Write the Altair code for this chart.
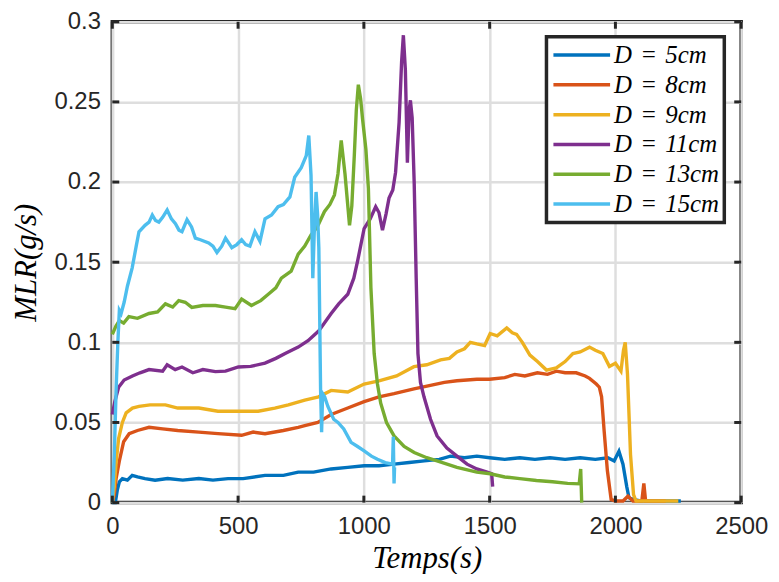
import altair as alt
import pandas as pd

# ---------------- data ----------------
SP = "\u2004"
labels = [f"D{SP}={SP}5cm", f"D{SP}={SP}8cm", f"D{SP}={SP}9cm",
          f"D{SP}={SP}11cm", f"D{SP}={SP}13cm", f"D{SP}={SP}15cm"]
colors = ["#0072BD", "#D95319", "#EDB120", "#7E2F8E", "#77AC30", "#4DBEEE"]

t5 = [0, 12, 20, 28, 40, 60, 79, 100, 130, 170, 220, 280, 344, 400, 460, 520, 607, 680, 739, 800,
      870, 936, 1001, 1060, 1120, 1180, 1240, 1300, 1344, 1400, 1449, 1500, 1560, 1620, 1680, 1740,
      1800, 1860, 1920, 1970, 1995, 2014, 2030, 2045, 2054, 2070, 2100, 2150, 2200, 2260]
v5 = [0, 0, 0.008, 0.013, 0.015, 0.014, 0.017, 0.016, 0.015, 0.014, 0.015, 0.014, 0.015, 0.014,
      0.015, 0.015, 0.017, 0.017, 0.019, 0.019, 0.021, 0.022, 0.023, 0.023, 0.024, 0.025, 0.026,
      0.027, 0.029, 0.028, 0.029, 0.028, 0.027, 0.028, 0.027, 0.028, 0.027, 0.028, 0.027, 0.028,
      0.026, 0.032, 0.024, 0.010, 0.003, 0.002, 0.001, 0.001, 0.001, 0.001]

t8 = [0, 8, 15, 28, 45, 67, 100, 146, 200, 260, 344, 420, 514, 560, 607, 680, 739, 765, 817, 870,
      936, 1001, 1060, 1120, 1199, 1260, 1320, 1370, 1449, 1500, 1560, 1600, 1640, 1690, 1730, 1765,
      1800, 1844, 1880, 1897, 1924, 1936, 1945, 1955, 1968, 1983, 2000, 2030, 2050, 2070, 2090,
      2105, 2113, 2120, 2150, 2200]
v8 = [0, 0.005, 0.015, 0.026, 0.038, 0.043, 0.045, 0.047, 0.046, 0.045, 0.044, 0.043, 0.042, 0.044,
      0.043, 0.045, 0.047, 0.048, 0.050, 0.055, 0.059, 0.063, 0.066, 0.068, 0.071, 0.073, 0.075,
      0.076, 0.077, 0.077, 0.078, 0.080, 0.079, 0.081, 0.080, 0.082, 0.081, 0.081, 0.079, 0.0775,
      0.074, 0.072, 0.066, 0.045, 0.020, 0.002, 0.001, 0.001, 0.004, 0.001, 0.001, 0.001, 0.012,
      0.001, 0.001, 0.001]

t9 = [0, 8, 15, 25, 40, 55, 80, 106, 150, 211, 260, 344, 420, 514, 580, 646, 700, 765, 820, 870,
      936, 1001, 1060, 1130, 1199, 1250, 1305, 1340, 1370, 1400, 1423, 1449, 1480, 1502, 1530, 1568,
      1590, 1607, 1630, 1660, 1690, 1726, 1765, 1800, 1831, 1860, 1897, 1920, 1950, 1976, 2000,
      2022, 2032, 2039, 2048, 2060, 2072, 2082, 2100, 2150, 2200, 2250]
v9 = [0, 0.01, 0.025, 0.040, 0.050, 0.056, 0.059, 0.060, 0.061, 0.061, 0.059, 0.059, 0.057, 0.057,
      0.057, 0.059, 0.061, 0.064, 0.066, 0.070, 0.069, 0.074, 0.076, 0.079, 0.0848, 0.086, 0.089,
      0.090, 0.094, 0.096, 0.100, 0.099, 0.098, 0.1055, 0.104, 0.109, 0.106, 0.105, 0.100, 0.092,
      0.088, 0.0827, 0.084, 0.088, 0.093, 0.094, 0.097, 0.095, 0.093, 0.085, 0.087, 0.082, 0.095,
      0.100, 0.080, 0.030, 0.005, 0.001, 0.001, 0.001, 0.001, 0.001]

t11 = [0, 10, 25, 47, 80, 110, 146, 200, 218, 250, 277, 320, 360, 410, 450, 501, 550, 607, 650, 687,
       739, 778, 820, 870, 900, 936, 960, 975, 1001, 1025, 1047, 1060, 1074, 1088, 1100, 1115, 1126,
       1140, 1150, 1157, 1165, 1173, 1180, 1185, 1192, 1200, 1208, 1215, 1225, 1239, 1265, 1291,
       1330, 1370, 1410, 1449, 1490, 1508, 1512]
v11 = [0.055, 0.063, 0.072, 0.0765, 0.079, 0.081, 0.083, 0.082, 0.086, 0.083, 0.0846, 0.081, 0.083,
       0.0817, 0.082, 0.0846, 0.085, 0.087, 0.090, 0.093, 0.097, 0.101, 0.107, 0.118, 0.124, 0.130,
       0.140, 0.1506, 0.171, 0.177, 0.1846, 0.181, 0.170, 0.180, 0.190, 0.195, 0.206, 0.237, 0.275,
       0.2916, 0.270, 0.212, 0.245, 0.251, 0.240, 0.200, 0.140, 0.093, 0.075, 0.066, 0.052, 0.0416,
       0.034, 0.029, 0.024, 0.021, 0.019, 0.018, 0.010]

t13 = [0, 14, 28, 45, 66, 100, 146, 180, 211, 240, 264, 290, 316, 360, 410, 450, 488, 514, 553, 590,
       620, 650, 672, 711, 739, 765, 790, 815, 843, 865, 883, 897, 910, 925, 943, 952, 962, 970, 978,
       987, 995, 1008, 1018, 1028, 1041, 1054, 1067, 1090, 1120, 1160, 1200, 1250, 1291, 1370, 1449,
       1502, 1560, 1620, 1686, 1750, 1810, 1856, 1862, 1866]
v13 = [0.105, 0.110, 0.1136, 0.112, 0.116, 0.115, 0.118, 0.119, 0.124, 0.122, 0.126, 0.125, 0.1218,
       0.123, 0.123, 0.122, 0.121, 0.127, 0.123, 0.126, 0.130, 0.134, 0.140, 0.1444, 0.155, 0.160,
       0.167, 0.172, 0.1815, 0.186, 0.192, 0.205, 0.226, 0.205, 0.173, 0.185, 0.2166, 0.245, 0.2607,
       0.252, 0.239, 0.2206, 0.196, 0.134, 0.093, 0.074, 0.062, 0.050, 0.0416, 0.035, 0.0313, 0.028,
       0.026, 0.022, 0.019, 0.018, 0.016, 0.015, 0.0138, 0.013, 0.012, 0.0117, 0.021, 0.0]

t15 = [0, 8, 15, 22, 28, 35, 47, 60, 79, 95, 106, 130, 146, 159, 172, 185, 200, 218, 235, 251, 265,
       277, 297, 315, 330, 350, 383, 400, 416, 435, 450, 475, 495, 514, 530, 547, 567, 587, 607, 633,
       659, 680, 706, 725, 751, 771, 781, 790, 797, 803, 810, 816, 821, 828, 832, 836, 844, 857, 880,
       897, 920, 949, 975, 1001, 1030, 1054, 1085, 1114, 1117, 1120, 1122]
v15 = [0, 0.03, 0.07, 0.10, 0.12, 0.118, 0.125, 0.135, 0.1465, 0.160, 0.169, 0.173, 0.175, 0.1794,
       0.176, 0.175, 0.178, 0.1825, 0.177, 0.174, 0.170, 0.169, 0.1765, 0.172, 0.165, 0.164, 0.162,
       0.160, 0.156, 0.160, 0.165, 0.159, 0.161, 0.164, 0.161, 0.160, 0.169, 0.163, 0.177, 0.1794,
       0.1846, 0.186, 0.1907, 0.203, 0.209, 0.2165, 0.229, 0.204, 0.140, 0.170, 0.1938, 0.180, 0.159,
       0.070, 0.044, 0.068, 0.066, 0.060, 0.052, 0.050, 0.046, 0.0376, 0.035, 0.0323, 0.029, 0.027,
       0.025, 0.024, 0.041, 0.012, 0.022]

x_ticks = [0, 500, 1000, 1500, 2000, 2500]
y_ticks = [0, 0.05, 0.1, 0.15, 0.2, 0.25, 0.3]

# ---------------- build table ----------------
series = [(t5, v5), (t8, v8), (t9, v9), (t11, v11), (t13, v13), (t15, v15)]
rows = []
for i, (ts, vs) in enumerate(series):
    for t, v in zip(ts, vs):
        rows.append({"t": t, "v": v, "D": labels[i]})
df = pd.DataFrame(rows)
xt = pd.DataFrame({"t": x_ticks})
yt = pd.DataFrame({"v": y_ticks})

W, H = 633, 484
INK = "#262626"

xscale = alt.Scale(domain=[0, 2500], nice=False)
yscale = alt.Scale(domain=[0, 0.3], nice=False, zero=True)
xaxis = alt.Axis(values=x_ticks, format="d", title="Temps(s)", labelFlush=False)
yaxis = alt.Axis(values=y_ticks, format="~g", title="MLR(g/s)", labelFlush=False)

lines = alt.Chart(df).mark_line(strokeWidth=3.4).encode(
    x=alt.X("t:Q", scale=xscale, axis=xaxis),
    y=alt.Y("v:Q", scale=yscale, axis=yaxis),
    color=alt.Color("D:N",
                    scale=alt.Scale(domain=labels, range=colors),
                    legend=alt.Legend(title=None, orient="none", legendX=437, legendY=15)),
    order="t:Q",
)

tick_style = dict(color=INK, strokeWidth=3)
bx = alt.Chart(xt).mark_rule(**tick_style).encode(
    x=alt.X("t:Q", scale=xscale, axis=xaxis), y=alt.value(H), y2=alt.value(H - 7))
tx = alt.Chart(xt).mark_rule(**tick_style).encode(
    x=alt.X("t:Q", scale=xscale, axis=xaxis), y=alt.value(0), y2=alt.value(7))
ly = alt.Chart(yt).mark_rule(**tick_style).encode(
    y=alt.Y("v:Q", scale=yscale, axis=yaxis), x=alt.value(0), x2=alt.value(7))
ry = alt.Chart(yt).mark_rule(**tick_style).encode(
    y=alt.Y("v:Q", scale=yscale, axis=yaxis), x=alt.value(W), x2=alt.value(W - 7))

chart = alt.layer(lines, bx, tx, ly, ry).properties(
    width=W, height=H,
    autosize=alt.AutoSizeParams(type="none"),
    padding={"left": 105, "top": 12, "right": 30, "bottom": 70},
).configure_view(
    stroke=INK, strokeWidth=3.5, fill="white"
).configure_axis(
    grid=True, gridColor="#dedede", gridWidth=2.5,
    domain=False, ticks=False,
    labelFont="Liberation Sans", labelFontSize=24, labelColor=INK,
    titleFont="Liberation Serif", titleFontStyle="italic", titleFontWeight="normal",
    titleFontSize=31, titleColor="black",
).configure_axisX(
    labelPadding=12, titlePadding=5,
).configure_axisY(
    labelPadding=12, titlePadding=12,
).configure_legend(
    strokeColor=INK, strokeWidth=3.5, fillColor="white", padding=5,
    symbolType="M-1,0H3.96", symbolSize=529, symbolStrokeWidth=3.5,
    labelFont="Liberation Serif", labelFontStyle="italic", labelFontSize=25,
    labelColor="black", labelOffset=36, rowPadding=3,
)

chart.save("out.html", embed_options={"renderer": "svg", "actions": False})
